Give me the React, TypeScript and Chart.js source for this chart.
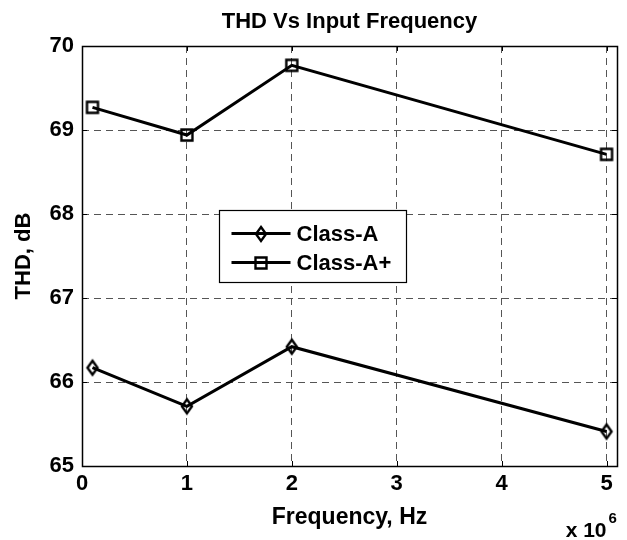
import React, { useEffect, useRef } from "react";
import { Chart, registerables } from "chart.js";

Chart.register(...registerables);

// ---- data ----
const frequencies = [0.1e6, 1e6, 2e6, 5e6];
const classA = [66.17, 65.71, 66.42, 65.41];
const classAPlus = [69.27, 68.94, 69.77, 68.71];
const seriesLabels = ["Class-A", "Class-A+"];
const xTickValues = [0, 1, 2, 3, 4, 5]; // x 10^6 Hz
const yTickValues = [65, 66, 67, 68, 69, 70];
const xRange = [0, 5.1e6];
const yRange = [65, 70];
const chartTitle = "THD Vs Input Frequency";
const xAxisTitle = "Frequency, Hz";
const yAxisTitle = "THD, dB";
const xMultiplier = "x 10";
const xExponent = "6";

const FONT = "Arial, 'Liberation Sans', Helvetica, sans-serif";

function makeMarker(kind: "diamond" | "square"): HTMLCanvasElement {
  const c = document.createElement("canvas");
  const w = 18;
  const h = 20;
  c.width = w;
  c.height = h;
  const ctx = c.getContext("2d")!;
  ctx.strokeStyle = "#000";
  ctx.lineWidth = 2.4;
  ctx.lineJoin = "miter";
  ctx.beginPath();
  if (kind === "diamond") {
    ctx.moveTo(w / 2, h / 2 - 7);
    ctx.lineTo(w / 2 + 5, h / 2);
    ctx.lineTo(w / 2, h / 2 + 7);
    ctx.lineTo(w / 2 - 5, h / 2);
    ctx.closePath();
  } else {
    ctx.rect(w / 2 - 5.5, h / 2 - 5.5, 11, 11);
  }
  ctx.stroke();
  return c;
}

export default function App() {
  const canvasRef = useRef<HTMLCanvasElement | null>(null);

  useEffect(() => {
    if (!canvasRef.current) return;
    const diamond = makeMarker("diamond");
    const square = makeMarker("square");
    const markers = [diamond, square];

    const framePlugin = {
      id: "matlabFrame",
      afterDraw(chart: any) {
        const { ctx, chartArea } = chart;
        const xs = chart.scales.x;
        const ys = chart.scales.y;
        const { left, right, top, bottom } = chartArea;
        ctx.save();
        // frame
        ctx.strokeStyle = "#000";
        ctx.lineWidth = 1.5;
        ctx.setLineDash([]);
        ctx.strokeRect(Math.round(left) + 0.5, Math.round(top) + 0.5, Math.round(right - left), Math.round(bottom - top));
        // inner ticks
        ctx.beginPath();
        ctx.lineWidth = 1;
        const tl = 5;
        xTickValues.forEach((v) => {
          const px = Math.round(xs.getPixelForValue(v * 1e6)) + 0.5;
          ctx.moveTo(px, bottom);
          ctx.lineTo(px, bottom - tl);
          ctx.moveTo(px, top);
          ctx.lineTo(px, top + tl);
        });
        yTickValues.forEach((v) => {
          const py = Math.round(ys.getPixelForValue(v)) + 0.5;
          ctx.moveTo(left, py);
          ctx.lineTo(left + tl, py);
          ctx.moveTo(right, py);
          ctx.lineTo(right - tl, py);
        });
        ctx.stroke();

        // legend box
        const w = right - left;
        const h = bottom - top;
        const lx = Math.round(left + 0.256 * w) + 0.5;
        const ly = Math.round(top + 0.39 * h) + 0.5;
        const lw = 187;
        const lh = 72;
        ctx.fillStyle = "#fff";
        ctx.fillRect(lx, ly, lw, lh);
        ctx.strokeStyle = "#000";
        ctx.lineWidth = 1.2;
        ctx.strokeRect(lx, ly, lw, lh);
        chart.data.datasets.forEach((ds: any, i: number) => {
          const ry = ly + 23 + i * 29;
          ctx.beginPath();
          ctx.lineWidth = 2.8;
          ctx.moveTo(lx + 12, ry);
          ctx.lineTo(lx + 71, ry);
          ctx.stroke();
          const m = markers[i];
          ctx.drawImage(m, Math.round(lx + 41 - m.width / 2), Math.round(ry - m.height / 2));
          ctx.fillStyle = "#000";
          ctx.font = `bold 22px ${FONT}`;
          ctx.textAlign = "left";
          ctx.textBaseline = "middle";
          ctx.fillText(ds.label, lx + 77, ry + 1);
        });

        // exponent label
        const x5 = xs.getPixelForValue(xTickValues[xTickValues.length - 1] * 1e6);
        ctx.fillStyle = "#000";
        ctx.textBaseline = "alphabetic";
        ctx.textAlign = "right";
        ctx.font = `bold 21px ${FONT}`;
        ctx.fillText(xMultiplier, x5, chart.height - 3);
        ctx.textAlign = "left";
        ctx.font = `bold 15px ${FONT}`;
        ctx.fillText(xExponent, x5 + 2, chart.height - 17);
        ctx.restore();
      },
    };

    const tickFont = { family: FONT, size: 22, weight: "bold" as const };
    const chart = new Chart(canvasRef.current, {
      type: "line",
      data: {
        datasets: [
          {
            label: seriesLabels[0],
            data: frequencies.map((f, i) => ({ x: f, y: classA[i] })),
            borderColor: "#000",
            borderWidth: 3,
            pointStyle: diamond as any,
            pointRadius: 6,
            fill: false,
            tension: 0,
          },
          {
            label: seriesLabels[1],
            data: frequencies.map((f, i) => ({ x: f, y: classAPlus[i] })),
            borderColor: "#000",
            borderWidth: 3,
            pointStyle: square as any,
            pointRadius: 6,
            fill: false,
            tension: 0,
          },
        ],
      },
      options: {
        animation: false,
        responsive: false,
        devicePixelRatio: 1,
        layout: { padding: { left: 0, right: 10, top: 0, bottom: 0 } },
        plugins: {
          legend: { display: false },
          tooltip: { enabled: false },
          title: {
            display: true,
            text: chartTitle,
            fullSize: false,
            color: "#000",
            font: { family: FONT, size: 22, weight: "bold" },
            padding: { top: 9, bottom: 10.6 },
          },
        },
        scales: {
          x: {
            type: "linear",
            position: "bottom",
            min: xRange[0],
            max: xRange[1],
            afterBuildTicks: (s: any) => {
              s.ticks = xTickValues.map((v) => ({ value: v * 1e6 }));
            },
            afterFit: (s: any) => {
              s.height = 74;
            },
            ticks: {
              callback: (v: any) => String(Math.round(Number(v) / 1e6)),
              font: tickFont,
              color: "#000",
              padding: 5,
              maxRotation: 0,
              autoSkip: false,
              includeBounds: false,
            },
            grid: { color: "#555", lineWidth: 1, drawTicks: false },
            border: { display: false, dash: [7, 5] },
            title: {
              display: true,
              text: xAxisTitle,
              color: "#000",
              font: { family: FONT, size: 23, weight: "bold" },
              padding: { top: 0, bottom: 9 },
            },
          },
          y: {
            type: "linear",
            position: "left",
            min: yRange[0],
            max: yRange[1],
            afterBuildTicks: (s: any) => {
              s.ticks = yTickValues.map((v) => ({ value: v }));
            },
            afterFit: (s: any) => {
              s.width = 82;
            },
            ticks: {
              font: tickFont,
              color: "#000",
              padding: 8,
              autoSkip: false,
              includeBounds: false,
            },
            grid: { color: "#555", lineWidth: 1, drawTicks: false },
            border: { display: false, dash: [7, 5] },
            title: {
              display: true,
              text: yAxisTitle,
              color: "#000",
              font: { family: FONT, size: 22, weight: "bold" },
              padding: { top: 11, bottom: 0 },
            },
          },
        },
      },
      plugins: [framePlugin],
    } as any);

    return () => chart.destroy();
  }, []);

  return (
    <div style={{ position: "absolute", left: 0, top: 0, width: 627, height: 540, background: "#fff" }}>
      <canvas ref={canvasRef} width={627} height={540} style={{ display: "block" }} />
    </div>
  );
}
